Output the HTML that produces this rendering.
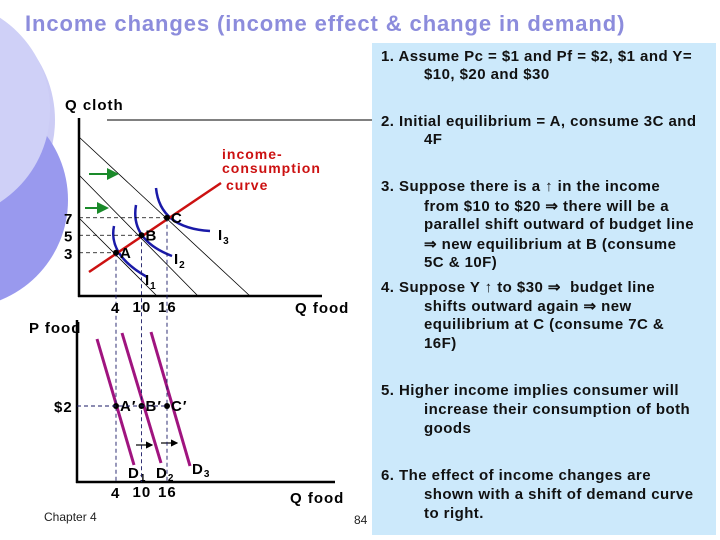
<!DOCTYPE html>
<html><head><meta charset="utf-8">
<style>
body{margin:0;width:720px;height:540px;overflow:hidden;background:#fff;font-family:"Liberation Sans",sans-serif;position:relative}
.t{position:absolute;font-weight:bold;font-size:15px;letter-spacing:0.45px;color:#111;white-space:nowrap}
.panel{position:absolute;left:372px;top:43px;width:344px;height:492px;background:#cce9fb}
#ch text{letter-spacing:1px}
</style></head><body>
<svg width="720" height="540" style="position:absolute;left:0;top:0">
<circle cx="-60" cy="120" r="115" fill="#ccccf5"/>
<circle cx="-40" cy="200" r="108" fill="#9999ee"/>
<circle cx="-60" cy="110" r="110" fill="#cfd0f7"/>
</svg>
<div class="panel"></div>
<div style="position:absolute;left:25px;top:11px;font-size:22px;letter-spacing:0.9px;font-weight:bold;color:#8c8cdc;white-space:nowrap">Income changes (income effect &amp; change in demand)</div>
<div>
<div class="t" style="left:381px;top:48px">1. Assume Pc = $1 and Pf = $2, $1 and Y=</div>
<div class="t" style="left:424px;top:66px">$10, $20 and $30</div>
<div class="t" style="left:381px;top:113px">2. Initial equilibrium = A, consume 3C and</div>
<div class="t" style="left:424px;top:131px">4F</div>
<div class="t" style="left:381px;top:178px">3. Suppose there is a &#8593; in the income</div>
<div class="t" style="left:424px;top:197px">from $10 to $20 &#8658; there will be a</div>
<div class="t" style="left:424px;top:216px">parallel shift outward of budget line</div>
<div class="t" style="left:424px;top:235px">&#8658; new equilibrium at B (consume</div>
<div class="t" style="left:424px;top:254px">5C &amp; 10F)</div>
<div class="t" style="left:381px;top:278px">4. Suppose Y &#8593; to $30 &#8658;&nbsp; budget line</div>
<div class="t" style="left:424px;top:297px">shifts outward again &#8658; new</div>
<div class="t" style="left:424px;top:316px">equilibrium at C (consume 7C &amp;</div>
<div class="t" style="left:424px;top:335px">16F)</div>
<div class="t" style="left:381px;top:382px">5. Higher income implies consumer will</div>
<div class="t" style="left:424px;top:401px">increase their consumption of both</div>
<div class="t" style="left:424px;top:420px">goods</div>
<div class="t" style="left:381px;top:467px">6. The effect of income changes are</div>
<div class="t" style="left:424px;top:486px">shown with a shift of demand curve</div>
<div class="t" style="left:424px;top:505px">to right.</div>
</div>
<div style="position:absolute;left:44px;top:510px;font-size:12px;color:#222">Chapter 4</div>
<div style="position:absolute;left:354px;top:513px;font-size:12px;color:#222">84</div>
<svg id="ch" width="720" height="540" style="position:absolute;left:0;top:0;font-family:'Liberation Sans',sans-serif;font-weight:bold">
<defs><marker id="ag" markerWidth="6" markerHeight="6" refX="5" refY="3" orient="auto"><path d="M0,0L6,3L0,6z" fill="#1a8a2a"/></marker>
<marker id="ak" markerWidth="6" markerHeight="6" refX="5" refY="3" orient="auto"><path d="M0,0L6,3L0,6z" fill="#000"/></marker></defs>
<line x1="107" y1="120" x2="372" y2="120" stroke="#000" stroke-width="1"/>
<line x1="79" y1="118" x2="79" y2="297" stroke="#000" stroke-width="2.5"/>
<line x1="78" y1="296" x2="322" y2="296" stroke="#000" stroke-width="2.5"/>
<line x1="79" y1="137" x2="250" y2="296" stroke="#000" stroke-width="0.8"/>
<line x1="79" y1="175" x2="198" y2="296" stroke="#000" stroke-width="0.8"/>
<line x1="79" y1="218" x2="157" y2="296" stroke="#000" stroke-width="0.8"/>
<line x1="89" y1="174" x2="117" y2="174" stroke="#1a8a2a" stroke-width="2" marker-end="url(#ag)"/>
<line x1="85" y1="208" x2="107" y2="208" stroke="#1a8a2a" stroke-width="2" marker-end="url(#ag)"/>
<path d="M114,226 Q108,255 147,277" fill="none" stroke="#1a1aa8" stroke-width="2.5"/>
<path d="M136,205 Q130,240 172,256" fill="none" stroke="#1a1aa8" stroke-width="2.5"/>
<path d="M156,188 Q160,228 210,231" fill="none" stroke="#1a1aa8" stroke-width="2.5"/>
<line x1="89" y1="272" x2="221" y2="183" stroke="#cc1111" stroke-width="2.5"/>
<text x="222" y="159" font-size="14" fill="#cc1111">income-</text>
<text x="222" y="173" font-size="14" fill="#cc1111">consumption</text>
<text x="226" y="190" font-size="14" fill="#cc1111">curve</text>
<text x="65" y="110" font-size="15" fill="#000">Q cloth</text>
<text x="295" y="313" font-size="15" fill="#000">Q food</text>
<text x="145" y="285" font-size="15">I<tspan font-size="10" dy="4">1</tspan></text>
<text x="174" y="264" font-size="15">I<tspan font-size="10" dy="4">2</tspan></text>
<text x="218" y="240" font-size="15">I<tspan font-size="10" dy="4">3</tspan></text>
<line x1="77" y1="320" x2="77" y2="483" stroke="#000" stroke-width="2.5"/>
<line x1="76" y1="482" x2="335" y2="482" stroke="#000" stroke-width="2.5"/>
<text x="29" y="333" font-size="15">P food</text>
<text x="290" y="503" font-size="15">Q food</text>
<line x1="97" y1="339" x2="134" y2="465" stroke="#a0147f" stroke-width="3"/>
<line x1="122" y1="333" x2="161" y2="463" stroke="#a0147f" stroke-width="3"/>
<line x1="151" y1="332" x2="190" y2="466" stroke="#a0147f" stroke-width="3"/>
<line x1="136" y1="445" x2="152" y2="445" stroke="#000" stroke-width="1.2" marker-end="url(#ak)"/>
<line x1="161" y1="443" x2="177" y2="443" stroke="#000" stroke-width="1.2" marker-end="url(#ak)"/>
<text x="128" y="478" font-size="15">D<tspan font-size="10" dy="3">1</tspan></text>
<text x="156" y="478" font-size="15">D<tspan font-size="10" dy="3">2</tspan></text>
<text x="192" y="474" font-size="15">D<tspan font-size="10" dy="3">3</tspan></text>
<g id="marks"></g>
</svg>
<script>
const foodQty=[4,10,16];
const clothQty=[3,5,7];
const eqLabels=["A","B","C"];
const demandLabels=["A′","B′","C′"];
const priceFood=[2];
const xs=q=>99+4.25*q;
const ys=c=>279-8.75*c;
const py=p=>482-38*p;
const NS="http://www.w3.org/2000/svg";
const g=document.getElementById('marks');
function mk(tag,attrs){const e=document.createElementNS(NS,tag);for(const k in attrs)e.setAttribute(k,attrs[k]);g.appendChild(e);return e;}
foodQty.forEach((q,i)=>{
  const x=xs(q),y=ys(clothQty[i]);
  let h=mk('line',{x1:79,y1:y,x2:x,y2:y,stroke:'#000','stroke-dasharray':'4,3','stroke-width':0.8});
  
  
  let v=mk('line',{x1:x,y1:y,x2:x,y2:482,stroke:'#1a1a66','stroke-dasharray':'4,3','stroke-width':0.9});
  
  
  let p=mk('circle',{cx:x,cy:y,r:3,fill:'#000'});
  
  
  let l=mk('text',{x:x+4,y:y+5,'font-size':15});l.textContent=eqLabels[i];
  
  
  let yl=mk('text',{x:64,y:y+6,'font-size':15});yl.textContent=clothQty[i];
  
  
  let xl=mk('text',{x:x-(i==0?5:9),y:i==0?313:312,'font-size':15});xl.textContent=q;
  
  
  const yp=py(priceFood[0]);
  let dp=mk('circle',{cx:x,cy:yp,r:3,fill:'#000'});
  
  
  let dl=mk('text',{x:x+4,y:yp+5,'font-size':15});dl.textContent=demandLabels[i];
  
  
  let bl=mk('text',{x:x-(i==0?5:9),y:i==0?498:497,'font-size':15});bl.textContent=q;
  
  
});
const yp=py(priceFood[0]);
let hd=mk('line',{x1:77,y1:yp,x2:xs(foodQty[2]),y2:yp,stroke:'#1a1a66','stroke-dasharray':'4,3','stroke-width':0.9});


let pl=mk('text',{x:54,y:yp+6,'font-size':15});pl.textContent='$'+priceFood[0];


</script>
</body></html>
